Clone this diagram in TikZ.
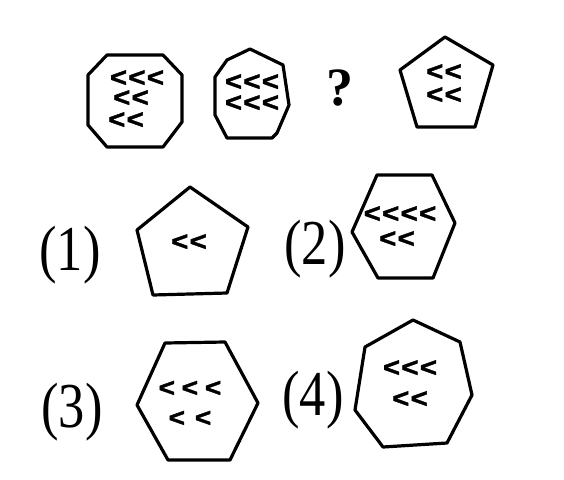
\documentclass[tikz,border=0pt]{standalone}
\usepackage{fontspec}
\setmainfont{Liberation Serif}
\newfontfamily\chevfont[LetterSpace=5,FakeBold=1.5]{Liberation Sans Bold}
\newfontfamily\chevwide[LetterSpace=24,FakeBold=1.5]{Liberation Sans Bold}
\begin{document}
\begin{tikzpicture}[x=1pt,y=-1pt,
  fig/.style={line width=3.2pt, line join=round},
  chv/.style={font=\chevfont\fontsize{27}{27}\selectfont, inner sep=0pt, xscale=1.08, text height=15pt, text depth=-3pt},
  chvw/.style={font=\chevwide\fontsize{26}{26}\selectfont, inner sep=0pt, xscale=1.08, text height=15pt, text depth=-3pt},
  lbl/.style={font=\fontsize{64}{64}\selectfont, xscale=0.82, inner sep=0pt}]
\fill[white] (0,0) rectangle (564,479);
\useasboundingbox (0,0) rectangle (564,479);
% top row
\draw[fig] (107,55) -- (163,55) -- (182,75) -- (182,122) -- (163,147) -- (107,147) -- (88,125) -- (88,75) -- cycle;
\node[chv] (a1) at (137,79) {<<<};
\node[chv] (a2) at (131,99) {<<};
\node[chv] (a3) at (126,121) {<<};
\draw[fig] (227,60) -- (250,49) -- (283,65) -- (289,105) -- (277,133) -- (272,138) -- (227,138) -- (215,115) -- (215,77) -- cycle;
\node[chv] (b1) at (252,83) {<<<};
\node[chv] (b2) at (252,104) {<<<};
\node[font=\bfseries\fontsize{54}{54}\selectfont, inner sep=0pt] (q) at (340,88) {?};
\draw[fig] (445,37) -- (493,65) -- (475,127) -- (417,127) -- (400,70) -- cycle;
\node[chv] (c1) at (444,73) {<<};
\node[chv] (c2) at (444,96) {<<};
% options
\node[lbl] (l1) at (70,255) {(1)};
\draw[fig] (190,187) -- (248,227) -- (227,293) -- (153,295) -- (137,230) -- cycle;
\node[chv] (o1) at (189,243) {<<};
\node[lbl] (l2) at (315,249) {(2)};
\draw[fig] (377,175) -- (432,175) -- (455,223) -- (433,278) -- (378,278) -- (352,232) -- cycle;
\node[chv] (p1) at (400,215) {<<<<};
\node[chv] (p2) at (397,240) {<<};
\node[lbl] (l3) at (72,412) {(3)};
\draw[fig] (165,343) -- (225,342) -- (258,403) -- (230,460) -- (168,460) -- (137,405) -- cycle;
\node[chvw] (r1) at (190,389) {<<<};
\node[chvw] (r2) at (190,419) {<\hspace{9pt}<};
\node[lbl] (l4) at (313,400) {(4)};
\draw[fig] (413,320) -- (460,342) -- (472,395) -- (447,443) -- (383,447) -- (355,410) -- (365,347) -- cycle;
\node[chv] (s1) at (410,369) {<<<};
\node[chv] (s2) at (410,400) {<<};
\end{tikzpicture}
\end{document}
